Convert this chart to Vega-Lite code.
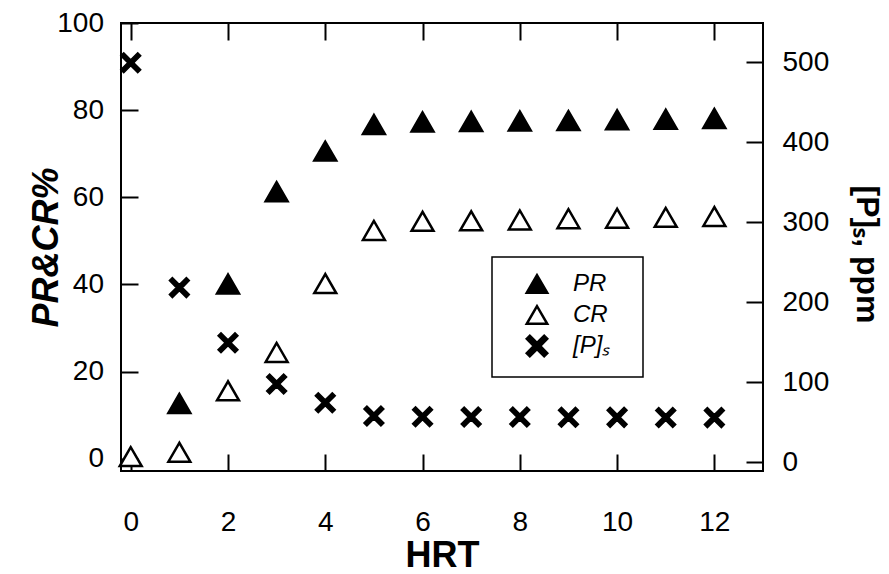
{
  "$schema": "https://vega.github.io/schema/vega-lite/v6.json",
  "width": 642,
  "height": 448,
  "autosize": {"type": "none"},
  "padding": {"left": 121, "top": 23, "right": 126, "bottom": 103},
  "background": "white",
  "datasets": {
    "pct": [
      {"HRT": 1, "series": "PR", "value": 12.7},
      {"HRT": 2, "series": "PR", "value": 40.1},
      {"HRT": 3, "series": "PR", "value": 61.3},
      {"HRT": 4, "series": "PR", "value": 70.6},
      {"HRT": 5, "series": "PR", "value": 76.7},
      {"HRT": 6, "series": "PR", "value": 77.3},
      {"HRT": 7, "series": "PR", "value": 77.4},
      {"HRT": 8, "series": "PR", "value": 77.5},
      {"HRT": 9, "series": "PR", "value": 77.6},
      {"HRT": 10, "series": "PR", "value": 77.8},
      {"HRT": 11, "series": "PR", "value": 77.9},
      {"HRT": 12, "series": "PR", "value": 78.1},
      {"HRT": 0, "series": "CR", "value": 0.5},
      {"HRT": 1, "series": "CR", "value": 1.5},
      {"HRT": 2, "series": "CR", "value": 15.6},
      {"HRT": 3, "series": "CR", "value": 24.4},
      {"HRT": 4, "series": "CR", "value": 40.2},
      {"HRT": 5, "series": "CR", "value": 52.4},
      {"HRT": 6, "series": "CR", "value": 54.5},
      {"HRT": 7, "series": "CR", "value": 54.6},
      {"HRT": 8, "series": "CR", "value": 54.8},
      {"HRT": 9, "series": "CR", "value": 55.1},
      {"HRT": 10, "series": "CR", "value": 55.2},
      {"HRT": 11, "series": "CR", "value": 55.4},
      {"HRT": 12, "series": "CR", "value": 55.6}
    ],
    "ppm": [
      {"HRT": 0, "series": "[P]ₛ", "value": 499},
      {"HRT": 1, "series": "[P]ₛ", "value": 218},
      {"HRT": 2, "series": "[P]ₛ", "value": 149},
      {"HRT": 3, "series": "[P]ₛ", "value": 97.5},
      {"HRT": 4, "series": "[P]ₛ", "value": 74},
      {"HRT": 5, "series": "[P]ₛ", "value": 57.5},
      {"HRT": 6, "series": "[P]ₛ", "value": 56.5},
      {"HRT": 7, "series": "[P]ₛ", "value": 56.3},
      {"HRT": 8, "series": "[P]ₛ", "value": 56.2},
      {"HRT": 9, "series": "[P]ₛ", "value": 56},
      {"HRT": 10, "series": "[P]ₛ", "value": 55.8},
      {"HRT": 11, "series": "[P]ₛ", "value": 55.6},
      {"HRT": 12, "series": "[P]ₛ", "value": 55.5}
    ]
  },
  "config": {
    "view": {"stroke": "black", "strokeWidth": 2},
    "font": "Liberation Sans",
    "axis": {
      "domain": false,
      "grid": false,
      "ticks": true,
      "tickColor": "black",
      "tickWidth": 2,
      "tickSize": 17,
      "offset": -17,
      "labelFont": "Liberation Sans",
      "labelFontSize": 28,
      "labelColor": "black",
      "titleFont": "Liberation Sans",
      "titleColor": "black",
      "titleFontWeight": "bold"
    },
    "legend": {
      "orient": "none",
      "legendX": 371,
      "legendY": 234,
      "strokeColor": "black",
      "strokeWidth": 1.5,
      "fillColor": "white",
      "padding": 15,
      "symbolOffset": 18,
      "symbolSize": 420,
      "symbolStrokeColor": "black",
      "symbolStrokeWidth": 2.5,
      "labelFont": "Liberation Sans",
      "labelFontSize": 24,
      "labelFontStyle": "italic",
      "labelColor": "black",
      "labelOffset": 24,
      "rowPadding": -1,
      "gridAlign": "all",
      "title": null
    }
  },
  "layer": [
    {
      "data": {"name": "pct"},
      "mark": {"type": "point", "strokeWidth": 2.5, "opacity": 1, "size": 480},
      "encoding": {
        "x": {
          "field": "HRT", "type": "quantitative",
          "scale": {"domain": [-0.2, 13], "nice": false, "zero": false},
          "axis": {"orient": "bottom", "values": [0, 2, 4, 6, 8, 10, 12], "title": "HRT", "titleFontSize": 36, "labelPadding": 37, "titlePadding": 2}
        },
        "y": {
          "field": "value", "type": "quantitative",
          "scale": {"domain": [-2.8, 100], "nice": false, "zero": false},
          "axis": {"orient": "left", "values": [0, 20, 40, 60, 80, 100], "title": "PR&CR%", "titleFontStyle": "italic", "titleFontSize": 36, "labelPadding": 17.5, "titlePadding": -9}
        },
        "fill": {
          "field": "series", "type": "nominal",
          "scale": {"domain": ["PR", "CR", "[P]ₛ"], "range": ["black", "white", "black"]},
          "legend": {"labelExpr": "datum.label + '\u2800'"}
        },
        "stroke": {
          "field": "series", "type": "nominal",
          "scale": {"domain": ["PR", "CR", "[P]ₛ"], "range": ["black", "black", "black"]},
          "legend": {"labelExpr": "datum.label + '\u2800'"}
        },
        "shape": {
          "field": "series", "type": "nominal",
          "scale": {"domain": ["PR", "CR", "[P]ₛ"], "range": ["triangle-up", "triangle-up", "M-1,-0.7L-0.7,-1L0,-0.3L0.7,-1L1,-0.7L0.3,0L1,0.7L0.7,1L0,0.3L-0.7,1L-1,0.7L-0.3,0Z"]},
          "legend": {"labelExpr": "datum.label + '\u2800'"}
        }
      }
    },
    {
      "data": {"name": "ppm"},
      "mark": {"type": "point", "strokeWidth": 1.5, "opacity": 1, "size": 400},
      "encoding": {
        "x": {
          "field": "HRT", "type": "quantitative",
          "scale": {"domain": [-0.2, 13], "nice": false, "zero": false},
          "axis": {"orient": "top", "values": [0, 2, 4, 6, 8, 10, 12], "labels": false, "title": null}
        },
        "y": {
          "field": "value", "type": "quantitative",
          "scale": {"domain": [-11.25, 548.75], "nice": false, "zero": false},
          "axis": {"orient": "right", "values": [0, 100, 200, 300, 400, 500], "title": "[P]ₛ, ppm", "titleAngle": 90, "titleFontSize": 32, "labelPadding": 19, "titlePadding": 21, "titleY": 231}
        },
        "fill": {"field": "series", "type": "nominal"},
        "stroke": {"field": "series", "type": "nominal"},
        "shape": {"field": "series", "type": "nominal"}
      }
    }
  ],
  "resolve": {"scale": {"y": "independent"}, "axis": {"x": "independent"}}
}
